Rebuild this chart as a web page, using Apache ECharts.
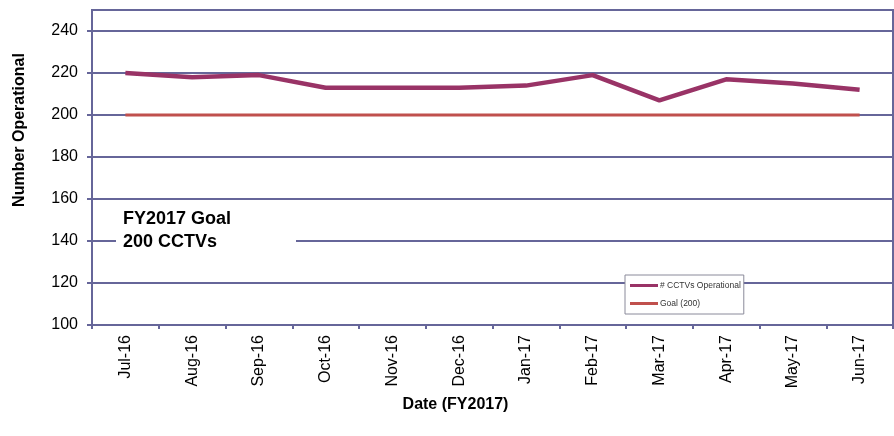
<!DOCTYPE html>
<html>
<head>
<meta charset="utf-8">
<script src="https://cdn.jsdelivr.net/npm/echarts@6/dist/echarts.min.js"></script>
<style>
  html, body { margin: 0; padding: 0; background: #fff; }
  #chart { width: 894px; height: 436px; }
</style>
</head>
<body>
<div id="chart"></div>
<script>
  // months of FY2017
  var months = ['Jul-16', 'Aug-16', 'Sep-16', 'Oct-16', 'Nov-16', 'Dec-16',
    'Jan-17', 'Feb-17', 'Mar-17', 'Apr-17', 'May-17', 'Jun-17']
  var cctvOperational = [220, 218, 219, 213, 213, 213, 214, 219, 207, 217, 215, 212]
  var goal = [200, 200, 200, 200, 200, 200, 200, 200, 200, 200, 200, 200]

  var gridColor = '#666699'
  var font = 'Liberation Sans, Arial, sans-serif'

  var chart = echarts.init(document.getElementById('chart'))
  chart.setOption({
    animation: false,
    textStyle: {fontFamily: font},
    grid: {
      left: 92, top: 10, right: 1, bottom: 111,
      outerBoundsMode: 'none',
      containLabel: false,
      show: true,
      borderColor: gridColor,
      borderWidth: 2
    },
    legend: {
      orient: 'vertical',
      left: 625,
      top: 275,
      padding: [6, 3, 6, 5],
      itemGap: 9,
      itemWidth: 28,
      itemHeight: 3,
      backgroundColor: '#fff',
      borderColor: '#8a8a9a',
      borderWidth: 1,
      borderRadius: 0,
      textStyle: {fontSize: 8.5, color: '#333', fontFamily: font, padding: [0, 0, 0, -3]},
      data: [
        {name: '# CCTVs Operational', icon: 'rect'},
        {name: 'Goal (200)', icon: 'rect'}
      ]
    },
    xAxis: {
      type: 'category',
      data: months,
      boundaryGap: true,
      name: 'Date (FY2017)',
      nameLocation: 'middle',
      nameGap: 71,
      nameTextStyle: {fontSize: 16, fontWeight: 'bold', color: '#000', fontFamily: font, padding: [0, 74, 0, 0]},
      axisLine: {lineStyle: {color: gridColor, width: 2}},
      axisTick: {show: true, length: 4, lineStyle: {color: gridColor, width: 2}},
      axisLabel: {rotate: 90, fontSize: 16, color: '#000', margin: 10, fontFamily: font}
    },
    yAxis: {
      type: 'value',
      min: 100,
      max: 250,
      interval: 20,
      name: 'Number Operational',
      nameLocation: 'middle',
      nameGap: 64,
      nameTextStyle: {fontSize: 16, fontWeight: 'bold', color: '#000', fontFamily: font, padding: [0, 0, 0, 75]},
      axisLine: {show: true, lineStyle: {color: gridColor, width: 2}},
      axisTick: {show: true, length: 5, lineStyle: {color: gridColor, width: 2}},
      axisLabel: {fontSize: 16, color: '#000', margin: 14, showMaxLabel: false, fontFamily: font},
      splitLine: {show: true, lineStyle: {color: gridColor, width: 2}}
    },
    graphic: [
      {
        type: 'rect',
        left: 116, top: 230,
        shape: {width: 180, height: 20},
        style: {fill: '#fff'},
        z: 100
      },
      {
        type: 'text',
        left: 123, top: 208,
        style: {
          text: 'FY2017 Goal\n200 CCTVs',
          font: 'bold 18px ' + font,
          lineHeight: 23,
          fill: '#000'
        },
        z: 101
      }
    ],
    series: [
      {
        name: '# CCTVs Operational',
        type: 'line',
        data: cctvOperational,
        symbol: 'none',
        z: 5,
        itemStyle: {color: '#993366'},
        lineStyle: {color: '#993366', width: 4.5}
      },
      {
        name: 'Goal (200)',
        type: 'line',
        data: goal,
        symbol: 'none',
        z: 4,
        itemStyle: {color: '#c0504d'},
        lineStyle: {color: '#c0504d', width: 3}
      }
    ]
  })
</script>
</body>
</html>
